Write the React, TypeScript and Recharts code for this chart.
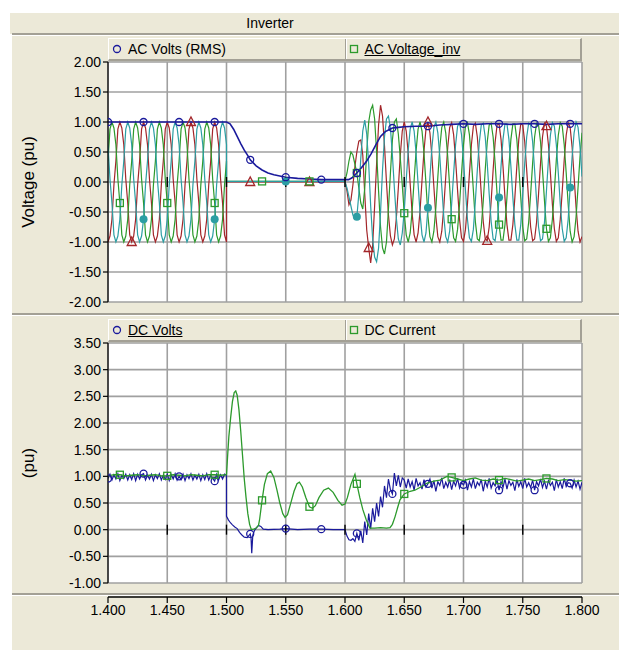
import React from 'react';
import { ComposedChart, Line, Scatter, XAxis, YAxis, CartesianGrid } from 'recharts';

const X_TICKS = [1.4, 1.45, 1.5, 1.55, 1.6, 1.65, 1.7, 1.75, 1.8];
const AC_TICKS = [-2, -1.5, -1, -0.5, 0, 0.5, 1, 1.5, 2];
const DC_TICKS = [-1, -0.5, 0, 0.5, 1, 1.5, 2, 2.5, 3, 3.5];
const ZERO_MARKS = [1.45, 1.5, 1.55, 1.6, 1.65, 1.7, 1.75];

// instantaneous traces are stored at the plot step (1/600 s)
const STEP = 1 / 600;
const PRE_START = 1.4;
const POST_START = 1.6;

// phase voltages before the fault, 1.400 .. 1.500
const VA_PRE = [
  -1, -0.9, -0.62, -0.05, 0.35, 0.88, 1, 0.9, 0.62, 0.05, -0.35, -0.88,
  -1, -0.9, -0.62, -0.05, 0.35, 0.88, 1, 0.9, 0.62, 0.05, -0.35, -0.88,
  -1, -0.9, -0.62, -0.05, 0.35, 0.88, 1, 0.9, 0.62, 0.05, -0.35, -0.88,
  -1, -0.9, -0.62, -0.05, 0.35, 0.88, 1, 0.9, 0.62, 0.05, -0.35, -0.88,
  -1, -0.9, -0.62, -0.05, 0.35, 0.88, 1, 0.9, 0.62, 0.05, -0.35, -0.88,
  -1,
];
const VB_PRE = [
  0.35, 0.88, 1, 0.9, 0.62, 0.05, -0.35, -0.88, -1, -0.9, -0.62, -0.05,
  0.35, 0.88, 1, 0.9, 0.62, 0.05, -0.35, -0.88, -1, -0.9, -0.62, -0.05,
  0.35, 0.88, 1, 0.9, 0.62, 0.05, -0.35, -0.88, -1, -0.9, -0.62, -0.05,
  0.35, 0.88, 1, 0.9, 0.62, 0.05, -0.35, -0.88, -1, -0.9, -0.62, -0.05,
  0.35, 0.88, 1, 0.9, 0.62, 0.05, -0.35, -0.88, -1, -0.9, -0.62, -0.05,
  0.35,
];
const VC_PRE = [
  0.62, 0.05, -0.35, -0.88, -1, -0.9, -0.62, -0.05, 0.35, 0.88, 1, 0.9,
  0.62, 0.05, -0.35, -0.88, -1, -0.9, -0.62, -0.05, 0.35, 0.88, 1, 0.9,
  0.62, 0.05, -0.35, -0.88, -1, -0.9, -0.62, -0.05, 0.35, 0.88, 1, 0.9,
  0.62, 0.05, -0.35, -0.88, -1, -0.9, -0.62, -0.05, 0.35, 0.88, 1, 0.9,
  0.62, 0.05, -0.35, -0.88, -1, -0.9, -0.62, -0.05, 0.35, 0.88, 1, 0.9,
  0.62,
];

// during the fault all three phases sit on zero
const FAULT_T = [1.5, 1.52, 1.53, 1.55, 1.57, 1.599];
const VA_FAULT = [0, 0, 0, 0, 0, 0];
const VB_FAULT = [0.01, 0.01, 0.01, 0.01, 0.01, 0.01];
const VC_FAULT = [0.01, 0.01, 0.01, 0.01, 0.01, 0.01];

// recovery, 1.600 .. 1.800
const VA_POST = [
  0.02, -0.15, -0.38, -0.3, -0.05, 0.25, 0.5, 0.68, 0.7, 0.45, -0.2, -0.8,
  -1.1, -1.35, -1.05, -0.4, 0.3, 0.95, 1.28, 1.1, 0.6, 0, -0.55, -0.9,
  -1.05, -0.95, -0.6, -0.1, 0.45, 0.85,
  1, 0.85, 0.48, -0.03, -0.52, -0.88, -1, -0.85, -0.48, 0.03, 0.52, 0.88,
  1, 0.82, 0.43, -0.08, -0.57, -0.91, -1, -0.82, -0.43, 0.08, 0.57, 0.91,
  0.99, 0.79, 0.37, -0.14, -0.62, -0.93, -0.99, -0.79, -0.37, 0.14, 0.62, 0.93,
  0.98, 0.75, 0.32, -0.2, -0.66, -0.95, -0.98, -0.75, -0.32, 0.2, 0.66, 0.95,
  0.97, 0.71, 0.26, -0.26, -0.71, -0.97, -0.97, -0.71, -0.26, 0.26, 0.71, 0.97,
  0.95, 0.67, 0.2, -0.31, -0.75, -0.98, -0.95, -0.67, -0.2, 0.31, 0.75, 0.98,
  0.93, 0.62, 0.15, -0.37, -0.78, -0.99, -0.93, -0.62, -0.15, 0.37, 0.78, 0.99,
  0.91, 0.58, 0.09, -0.42, -0.82, -1, -0.91,
];
const VB_POST = [
  0.02, 0.15, 0.35, 0.5, 0.45, 0.3, 0.15, -0.1, -0.35, -0.45, -0.1, 0.5,
  1, 1.2, 1.28, 1.05, 0.5, -0.15, -0.75, -1.1, -1.2, -1, -0.45, 0.15,
  0.7, 1, 1.05, 0.8, 0.4, -0.05,
  -0.52, -0.88, -1, -0.85, -0.48, 0.03, 0.52, 0.88, 1, 0.85, 0.48, -0.03,
  -0.57, -0.91, -1, -0.82, -0.43, 0.08, 0.57, 0.91, 1, 0.82, 0.43, -0.08,
  -0.62, -0.93, -0.99, -0.79, -0.37, 0.14, 0.62, 0.93, 0.99, 0.79, 0.37, -0.14,
  -0.66, -0.95, -0.98, -0.75, -0.32, 0.2, 0.66, 0.95, 0.98, 0.75, 0.32, -0.2,
  -0.71, -0.97, -0.97, -0.71, -0.26, 0.26, 0.71, 0.97, 0.97, 0.71, 0.26, -0.26,
  -0.75, -0.98, -0.95, -0.67, -0.2, 0.31, 0.75, 0.98, 0.95, 0.67, 0.2, -0.31,
  -0.78, -0.99, -0.93, -0.62, -0.15, 0.37, 0.78, 0.99, 0.93, 0.62, 0.15, -0.37,
  -0.82, -1, -0.91, -0.58, -0.09, 0.42, 0.82,
];
const VC_POST = [
  0, -0.1, -0.25, -0.4, -0.55, -0.62, -0.58, -0.2, 0.4, 0.85, 1.03, 0.8,
  0.3, -0.4, -0.95, -1.25, -1.33, -1.1, -0.5, 0.2, 0.75, 1.05, 1.1, 0.9,
  0.45, -0.1, -0.6, -0.95, -1.05, -0.85,
  -0.48, 0.03, 0.52, 0.88, 1, 0.85, 0.48, -0.03, -0.52, -0.88, -1, -0.85,
  -0.43, 0.08, 0.57, 0.91, 1, 0.82, 0.43, -0.08, -0.57, -0.91, -1, -0.82,
  -0.37, 0.14, 0.62, 0.93, 0.99, 0.79, 0.37, -0.14, -0.62, -0.93, -0.99, -0.79,
  -0.32, 0.2, 0.66, 0.95, 0.98, 0.75, 0.32, -0.2, -0.66, -0.95, -0.98, -0.75,
  -0.26, 0.26, 0.71, 0.97, 0.97, 0.71, 0.26, -0.26, -0.71, -0.97, -0.97, -0.71,
  -0.2, 0.31, 0.75, 0.98, 0.95, 0.67, 0.2, -0.31, -0.75, -0.98, -0.95, -0.67,
  -0.15, 0.37, 0.78, 0.99, 0.93, 0.62, 0.15, -0.37, -0.78, -0.99, -0.93, -0.62,
  -0.09, 0.42, 0.82, 1, 0.91, 0.58, 0.09,
];

// AC Volts (RMS)
const RMS_T = [
  1.4, 1.43, 1.46, 1.49, 1.5, 1.503, 1.506, 1.509, 1.512, 1.515, 1.518, 1.52,
  1.525, 1.53, 1.535, 1.54, 1.545, 1.55, 1.56, 1.57, 1.58, 1.59, 1.6, 1.603,
  1.606, 1.61, 1.614, 1.618, 1.622, 1.626, 1.63, 1.634, 1.638, 1.64, 1.645, 1.65,
  1.66, 1.67, 1.68, 1.69, 1.7, 1.71, 1.72, 1.73, 1.74, 1.75, 1.76, 1.77,
  1.78, 1.79, 1.8,
];
const RMS_V = [
  1, 1, 1, 1, 1, 0.97, 0.88, 0.76, 0.64, 0.53, 0.44, 0.37,
  0.27, 0.2, 0.15, 0.12, 0.1, 0.08, 0.06, 0.05, 0.04, 0.04, 0.04, 0.04,
  0.07, 0.15, 0.24, 0.34, 0.47, 0.62, 0.76, 0.84, 0.88, 0.9, 0.91, 0.92,
  0.93, 0.93, 0.95, 0.96, 0.97, 0.96, 0.97, 0.97, 0.96, 0.97, 0.97, 0.96,
  0.97, 0.97, 0.97,
];

// DC Volts
const DCV_PRE = [
  0.96, 1.04, 0.93, 1.03, 0.95, 1.05, 0.92, 1.02, 0.96, 1.04, 0.93, 1.03,
  0.94, 1.05, 0.92, 1.04, 0.95, 1.03, 1.05, 0.93, 1.02, 0.95, 1.04, 0.92,
  1.03, 0.96, 1.05, 0.93, 1.02, 0.94, 1.04, 0.92, 1.03, 0.95, 1.05, 0.93,
  1.0, 0.94, 1.04, 0.92, 1.03, 0.96, 1.05, 0.93, 1.02, 0.95, 1.04, 0.92,
  1.03, 0.94, 1.05, 0.93, 1.02, 0.96, 0.91, 1.04, 0.93, 1.03, 0.95, 1.04,
  1.02,
];
const DCV_FAULT_T = [
  1.5, 1.5017, 1.5033, 1.505, 1.507, 1.509, 1.511, 1.513, 1.515, 1.5175, 1.52,
  1.5207, 1.5213, 1.5222, 1.5235, 1.525, 1.527, 1.529, 1.531, 1.535, 1.545,
  1.55, 1.56, 1.57, 1.58, 1.59, 1.599,
];
const DCV_FAULT_V = [
  0.25, 0.18, 0.13, 0.09, 0.05, 0.02, -0.05, -0.1, -0.14, -0.15, -0.08,
  -0.15, -0.44, -0.1, -0.02, 0.03, 0.08, 0.06, 0.01, 0, 0.01,
  0.02, 0, 0.01, 0.01, 0, 0,
];
const DCV_POST = [
  0, -0.12, -0.19, -0.2, -0.17, -0.22, -0.07, -0.2, -0.02, -0.25, 0.15, -0.1,
  0.3, 0.02, 0.4, 0.15, 0.5, 0.25, 0.62, 0.42, 0.82, 0.6, 0.95, 0.75,
  0.67, 1.06, 0.82, 1.02, 0.8, 0.97,
  0.93, 0.78, 0.95, 0.8, 0.9, 0.74, 0.96, 0.82, 0.88, 0.76, 0.94, 0.8,
  0.86, 0.95, 0.78, 0.92, 0.72, 0.9, 0.83, 0.97, 0.77, 0.89, 0.8, 0.94,
  0.75, 0.91, 0.82, 0.96, 0.78, 0.88, 0.84, 0.93, 0.74, 0.9, 0.8, 0.95,
  0.77, 0.89, 0.83, 0.94, 0.72, 0.91, 0.8, 0.96, 0.78, 0.88, 0.82, 0.93,
  0.74, 0.9, 0.79, 0.95, 0.76, 0.92, 0.83, 0.89, 0.73, 0.94, 0.81, 0.9,
  0.77, 0.96, 0.8, 0.88, 0.79, 0.93, 0.74, 0.9, 0.82, 0.95, 0.79, 0.91,
  0.76, 0.92, 0.83, 0.89, 0.73, 0.94, 0.8, 0.9, 0.77, 0.96, 0.81, 0.88,
  0.87, 0.78, 0.93, 0.8, 0.91, 0.76, 0.89,
];

// DC Current
const DCI_T = [
  1.4, 1.405, 1.41, 1.415, 1.42, 1.425, 1.43, 1.435, 1.44, 1.445, 1.45, 1.455,
  1.46, 1.465, 1.47, 1.475, 1.48, 1.485, 1.49, 1.495, 1.5,
  1.501, 1.502, 1.5035, 1.505, 1.5065, 1.5078, 1.509, 1.5105, 1.512, 1.5135,
  1.515, 1.5165, 1.518, 1.5195, 1.521, 1.523, 1.525, 1.527, 1.528, 1.53,
  1.532, 1.5345, 1.5373, 1.54, 1.5425, 1.545, 1.5475, 1.5494, 1.5515, 1.554,
  1.557, 1.5595, 1.5615, 1.564, 1.567, 1.57, 1.5725, 1.575, 1.578, 1.582,
  1.586, 1.59, 1.594, 1.5975, 1.6, 1.602, 1.605, 1.6084, 1.61, 1.6125,
  1.615, 1.618, 1.621, 1.625, 1.63, 1.635, 1.638, 1.64, 1.6422, 1.6445,
  1.6464, 1.65, 1.655, 1.659, 1.664, 1.669, 1.675, 1.68, 1.686, 1.69,
  1.695, 1.7, 1.705, 1.71, 1.715, 1.72, 1.725, 1.73, 1.735, 1.74,
  1.745, 1.75, 1.755, 1.76, 1.765, 1.77, 1.775, 1.78, 1.785, 1.79,
  1.795, 1.8,
];
const DCI_V = [
  1.01, 1.03, 1.03, 1.01, 1.02, 1.03, 1.01, 1.02, 1.03, 1.01, 1.01, 1.03,
  1.02, 1.01, 1.03, 1.02, 1.01, 1.03, 1.03, 1.02, 1.03,
  1.4, 1.75, 2.1, 2.4, 2.57, 2.6, 2.52, 2.25, 1.85, 1.4,
  0.95, 0.6, 0.3, 0.1, 0, 0.01, 0.03, 0.08, 0.2, 0.55,
  0.85, 1.05, 1.1, 0.98, 0.75, 0.5, 0.3, 0.23, 0.28, 0.48,
  0.72, 0.86, 0.89, 0.8, 0.6, 0.43, 0.4, 0.45, 0.6, 0.74,
  0.78, 0.7, 0.55, 0.46, 0.48, 0.6, 0.85, 1.04, 0.86, 0.6,
  0.38, 0.18, 0.03, 0.03, 0.04, 0.03, 0.04, 0.1, 0.24, 0.42,
  0.56, 0.67, 0.72, 0.74, 0.8, 0.87, 0.91, 0.93, 1, 0.98,
  0.95, 0.92, 0.95, 0.97, 0.93, 0.92, 0.95, 0.93, 0.96, 0.94,
  0.91, 0.93, 0.95, 0.92, 0.94, 0.96, 0.95, 0.92, 0.94, 0.93,
  0.91, 0.92,
];

// where PSCAD puts a symbol on each trace
const RMS_MARKS = [1.4, 1.43, 1.46, 1.49, 1.52, 1.55, 1.58, 1.61, 1.64, 1.67, 1.7, 1.73, 1.76, 1.79];
const VA_MARKS = [1.42, 1.47, 1.52, 1.57, 1.62, 1.67, 1.72, 1.77];
const VB_MARKS = [1.41, 1.45, 1.49, 1.53, 1.57, 1.61, 1.65, 1.69, 1.73, 1.77];
const VC_MARKS = [1.43, 1.49, 1.55, 1.61, 1.67, 1.73, 1.79];

const BEIGE = '#ece9d8';
const EDGE = '#a3a095';
const BLUE = '#1a1a9c';
const GREEN = '#2c9a2c';
const RED = '#a3262a';
const TEAL = '#2b9ea3';
const FONT = '"Liberation Sans", Arial, sans-serif';

const seq = (start: number, vals: number[]) => vals.map((v, i) => ({ t: start + i * STEP, v }));
const pairs = (ts: number[], vs: number[]) => ts.map((t, i) => ({ t, v: vs[i] }));

const circle = (c: string) => (x: number, y: number) => (
  <circle cx={x} cy={y} r={3.5} fill="none" stroke={c} strokeWidth={1.3} />
);
const square = (c: string) => (x: number, y: number) => (
  <rect x={x - 3.5} y={y - 3.5} width={7} height={7} fill="none" stroke={c} strokeWidth={1.3} />
);
const triangle = (c: string) => (x: number, y: number) => (
  <polygon points={`${x},${y - 5} ${x - 4.5},${y + 3.5} ${x + 4.5},${y + 3.5}`} fill="none" stroke={c} strokeWidth={1.3} />
);
const filled = (c: string) => (x: number, y: number) => <circle cx={x} cy={y} r={4} fill={c} />;

const markerDot = (marks: number[], draw: (x: number, y: number) => React.ReactElement) => (p: any) => {
  const hit = p.payload && marks.some((m) => Math.abs(m - p.payload.t) < 1e-6);
  if (!hit || p.cx == null || p.cy == null) return <g key={p.index} />;
  return <g key={p.index}>{draw(p.cx, p.cy)}</g>;
};

const zeroTick = (p: any) => (
  <line x1={p.cx} x2={p.cx} y1={p.cy - 5} y2={p.cy + 5} stroke="#000" strokeWidth={1.4} />
);

const tickStyle = { fill: '#000', fontSize: 14, fontFamily: FONT };
const fmt2 = (v: number) => v.toFixed(2);
const fmt3 = (v: number) => v.toFixed(3);

const LegendRow = ({ top, items }: { top: number; items: { label: string; under: boolean; icon: React.ReactElement }[] }) => (
  <div
    style={{
      position: 'absolute', left: 108, top, width: 474, height: 23, boxSizing: 'border-box',
      background: BEIGE, borderTop: '1px solid #fff', borderLeft: '1px solid #fff',
      borderRight: `2px solid ${EDGE}`, borderBottom: `2px solid ${EDGE}`, display: 'flex',
    }}
  >
    {items.map((it, k) => (
      <div
        key={it.label}
        style={{
          width: k ? 235 : 236, display: 'flex', alignItems: 'center', paddingLeft: 3,
          borderLeft: k ? `1px solid ${EDGE}` : 'none', boxShadow: k ? 'inset 1px 0 0 #fff' : 'none',
        }}
      >
        <svg width={10} height={10} style={{ flex: 'none' }}>{it.icon}</svg>
        <span style={{ marginLeft: 6, fontSize: 14, color: '#000', textDecoration: it.under ? 'underline' : 'none' }}>
          {it.label}
        </span>
      </div>
    ))}
  </div>
);

const Separator = ({ top }: { top: number }) => (
  <>
    <div style={{ position: 'absolute', left: 12, top, width: 607, height: 2, background: EDGE }} />
    <div style={{ position: 'absolute', left: 12, top: top + 2, width: 607, height: 1, background: '#fff' }} />
  </>
);

export default function App() {
  const phaseA = [...seq(PRE_START, VA_PRE), ...pairs(FAULT_T, VA_FAULT), ...seq(POST_START, VA_POST)];
  const phaseB = [...seq(PRE_START, VB_PRE), ...pairs(FAULT_T, VB_FAULT), ...seq(POST_START, VB_POST)];
  const phaseC = [...seq(PRE_START, VC_PRE), ...pairs(FAULT_T, VC_FAULT), ...seq(POST_START, VC_POST)];
  const rms = pairs(RMS_T, RMS_V);
  const dcVolts = [...seq(PRE_START, DCV_PRE), ...pairs(DCV_FAULT_T, DCV_FAULT_V), ...seq(POST_START, DCV_POST)];
  const dcCurrent = pairs(DCI_T, DCI_V);
  const zeroMarks = ZERO_MARKS.map((t) => ({ t, v: 0 }));
  const axisOnly = X_TICKS.map((t) => ({ t, v: 0 }));

  const xAxisHidden = (
    <XAxis type="number" dataKey="t" domain={[1.4, 1.8]} ticks={X_TICKS} hide allowDataOverflow />
  );

  return (
    <div style={{ position: 'absolute', left: 0, top: 0, width: 619, height: 652, background: '#fff', fontFamily: FONT, overflow: 'hidden' }}>
      <div style={{ position: 'absolute', left: 10, top: 13, width: 609, height: 21, background: BEIGE }} />
      <div style={{ position: 'absolute', left: 170, top: 13, width: 200, height: 21, lineHeight: '21px', textAlign: 'center', fontSize: 14, color: '#000' }}>
        Inverter
      </div>
      <div style={{ position: 'absolute', left: 12, top: 36, width: 607, height: 614, background: BEIGE }} />
      <Separator top={33} />
      <Separator top={313} />
      <Separator top={593} />

      <LegendRow
        top={38}
        items={[
          { label: 'AC Volts (RMS)', under: false, icon: <circle cx={5} cy={5} r={3.5} fill="none" stroke={BLUE} strokeWidth={1.3} /> },
          { label: 'AC Voltage_inv', under: true, icon: <rect x={1.5} y={1.5} width={7} height={7} fill="none" stroke={GREEN} strokeWidth={1.3} /> },
        ]}
      />
      <LegendRow
        top={319}
        items={[
          { label: 'DC Volts', under: true, icon: <circle cx={5} cy={5} r={3.5} fill="none" stroke={BLUE} strokeWidth={1.3} /> },
          { label: 'DC Current', under: false, icon: <rect x={1.5} y={1.5} width={7} height={7} fill="none" stroke={GREEN} strokeWidth={1.3} /> },
        ]}
      />

      <div style={{ position: 'absolute', left: 0, top: 0 }}>
        <ComposedChart width={619} height={310} margin={{ top: 62, right: 37, bottom: 8, left: 12 }}>
          <CartesianGrid fill="#fff" stroke="#a0a0a0" strokeWidth={1.6} />
          {xAxisHidden}
          <YAxis
            type="number" domain={[-2, 2]} ticks={AC_TICKS} width={96} allowDataOverflow
            tickFormatter={fmt2} tick={tickStyle} tickSize={5}
            axisLine={{ stroke: '#000', strokeWidth: 1.2 }} tickLine={{ stroke: '#000', strokeWidth: 1.2 }}
            label={{ value: 'Voltage (pu)', angle: -90, position: 'insideLeft', offset: 16, style: { textAnchor: 'middle', fontSize: 17, fill: '#000', fontFamily: FONT } }}
          />
          <Scatter data={zeroMarks} dataKey="v" shape={zeroTick} isAnimationActive={false} />
          <Line data={phaseA} dataKey="v" type="linear" stroke={RED} strokeWidth={1.2} dot={markerDot(VA_MARKS, triangle(RED))} activeDot={false} isAnimationActive={false} />
          <Line data={phaseB} dataKey="v" type="linear" stroke={GREEN} strokeWidth={1.2} dot={markerDot(VB_MARKS, square(GREEN))} activeDot={false} isAnimationActive={false} />
          <Line data={phaseC} dataKey="v" type="linear" stroke={TEAL} strokeWidth={1.2} dot={markerDot(VC_MARKS, filled(TEAL))} activeDot={false} isAnimationActive={false} />
          <Line data={rms} dataKey="v" type="linear" stroke={BLUE} strokeWidth={1.6} dot={markerDot(RMS_MARKS, circle(BLUE))} activeDot={false} isAnimationActive={false} />
        </ComposedChart>
      </div>

      <div style={{ position: 'absolute', left: 0, top: 0 }}>
        <ComposedChart width={619} height={600} margin={{ top: 343, right: 37, bottom: 17, left: 12 }}>
          <CartesianGrid fill="#fff" stroke="#a0a0a0" strokeWidth={1.6} />
          {xAxisHidden}
          <YAxis
            type="number" domain={[-1, 3.5]} ticks={DC_TICKS} width={96} allowDataOverflow
            tickFormatter={fmt2} tick={tickStyle} tickSize={5}
            axisLine={{ stroke: '#000', strokeWidth: 1.2 }} tickLine={{ stroke: '#000', strokeWidth: 1.2 }}
            label={{ value: '(pu)', angle: -90, position: 'insideLeft', offset: 16, style: { textAnchor: 'middle', fontSize: 17, fill: '#000', fontFamily: FONT } }}
          />
          <Scatter data={zeroMarks} dataKey="v" shape={zeroTick} isAnimationActive={false} />
          <Line data={dcVolts} dataKey="v" type="linear" stroke={BLUE} strokeWidth={1.2} dot={markerDot(RMS_MARKS, circle(BLUE))} activeDot={false} isAnimationActive={false} />
          <Line data={dcCurrent} dataKey="v" type="linear" stroke={GREEN} strokeWidth={1.3} dot={markerDot(VB_MARKS, square(GREEN))} activeDot={false} isAnimationActive={false} />
        </ComposedChart>
      </div>

      <div style={{ position: 'absolute', left: 0, top: 0 }}>
        <ComposedChart width={619} height={650} data={axisOnly} margin={{ top: 590, right: 37, bottom: 0, left: 108 }}>
          <XAxis
            type="number" dataKey="t" domain={[1.4, 1.8]} ticks={X_TICKS} height={53}
            tickFormatter={fmt3} tick={tickStyle} tickSize={6}
            axisLine={{ stroke: '#000', strokeWidth: 1.4 }} tickLine={{ stroke: '#000', strokeWidth: 1.2 }}
          />
          <YAxis hide domain={[0, 1]} />
          <Line dataKey="v" stroke="none" dot={false} activeDot={false} isAnimationActive={false} />
        </ComposedChart>
      </div>
    </div>
  );
}
